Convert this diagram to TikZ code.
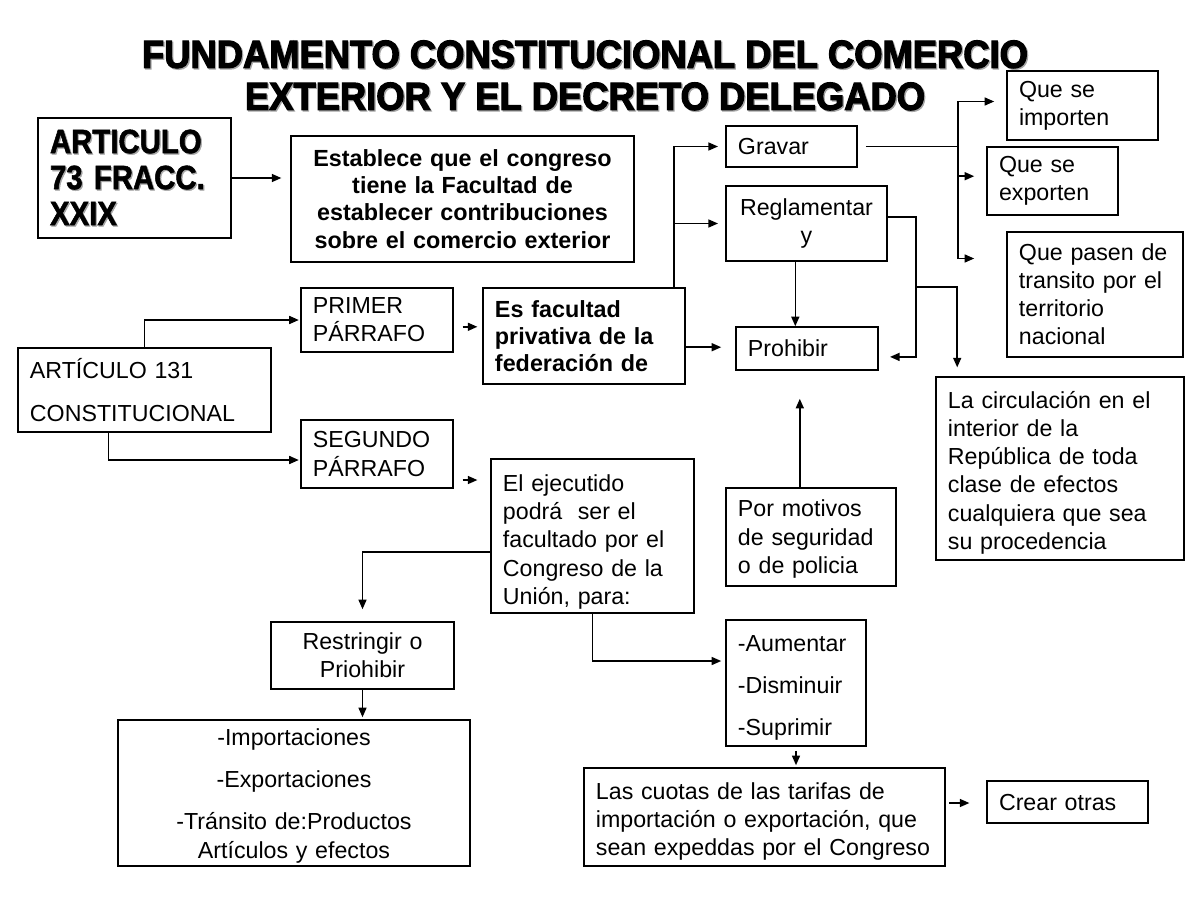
\documentclass[tikz,border=0pt]{standalone}
\usepackage{fontspec}
\setmainfont{Liberation Sans}
\newfontfamily\titlefont[FakeStretch=0.93,FakeBold=3]{Liberation Sans Bold}
\newfontfamily\narrowfont[FakeStretch=0.87,FakeBold=1.5]{Liberation Sans Bold}
\newcommand\shadowed[1]{\leavevmode\rlap{\kern0.9pt\raisebox{-0.9pt}{\color{black!35}#1}}#1}
\usetikzlibrary{arrows.meta,positioning}

\begin{document}
\begin{tikzpicture}[x=0.025cm,y=-0.025cm,>={Triangle[length=2.4mm,width=2mm]},line width=1.1pt,
 regbox/.style 2 args={draw,inner xsep=0.3cm,inner ysep=0pt,text width=#1cm,minimum height=#2cm,
  align=left,font=\fontsize{16.5}{20}\selectfont},
 boldbox/.style 2 args={regbox={#1}{#2},font=\bfseries\fontsize{16.6}{19.4}\selectfont},
 narrowbox/.style 2 args={regbox={#1}{#2},font=\narrowfont\fontsize{24}{25.6}\selectfont},
 textdown/.style={execute at end node={\endgraf\vspace*{-#1}}}]
\useasboundingbox (0,0) rectangle (1200,914);
\node[font=\titlefont\fontsize{27.8}{29.9}\selectfont,align=center] (title) at (585,76)
 {\shadowed{FUNDAMENTO CONSTITUCIONAL DEL COMERCIO}\\\shadowed{EXTERIOR Y EL DECRETO DELEGADO}};
% left column
\node[narrowbox={4.225}{3.0}] (art73) at (134.5,178) {\shadowed{ARTICULO}\\\shadowed{73 FRACC.}\\\shadowed{XXIX}};
\node[boldbox={7.975}{3.15},align=center] (estab) at (462.5,199)
 {Establece que el congreso\\tiene la Facultad de\\establecer contribuciones\\sobre el comercio exterior};
\node[regbox={5.725}{2.1}] (art131) at (144.5,390) {ARTÍCULO 131\\[10pt]CONSTITUCIONAL};
\node[regbox={3.2}{1.6}] (primer) at (377,320) {PRIMER\\PÁRRAFO};
\node[regbox={3.2}{1.7}] (segundo) at (377,454) {SEGUNDO\\PÁRRAFO};
\node[boldbox={4.45}{2.4}] (esfac) at (584,336) {Es facultad\\privativa de la\\federación de};
\node[regbox={4.475}{3.85},textdown=8.5pt] (ejec) at (592.5,536)
 {El ejecutido\\podrá~ ser el\\facultado por el\\Congreso de la\\Unión, para:};
\node[regbox={3.975}{1.675},align=center] (restr) at (362.5,655.5) {Restringir o\\Priohibir};
\node[regbox={8.2}{3.65},align=center,textdown=4pt] (impo) at (294,793)
 {-Importaciones\\[10pt]-Exportaciones\\[10pt]-Tránsito de:Productos\\Artículos y efectos};
% middle column
\node[regbox={2.675}{1.025}] (gravar) at (791.5,146.5) {Gravar};
\node[regbox={3.425}{1.875},align=center] (regl) at (806.5,223.5) {Reglamentar\\y};
\node[regbox={2.95}{1.075}] (prohib) at (807,348.5) {Prohibir};
\node[regbox={3.65}{2.45},textdown=3pt] (motivos) at (811,537) {Por motivos\\de seguridad\\o de policia};
\node[regbox={2.9}{3.15},textdown=7pt] (aum) at (796,683) {-Aumentar\\[10pt]-Disminuir\\[10pt]-Suprimir};
\node[regbox={8.425}{2.45},textdown=6pt] (cuotas) at (764.5,817)
 {Las cuotas de las tarifas de\\importación o exportación, que\\sean expeddas por el Congreso};
% right column
\node[regbox={3.175}{1.725}] (qimp) at (1082.5,105.5) {Que se\\importen};
\node[regbox={2.675}{1.7}] (qexp) at (1052.5,181) {Que se\\exporten};
\node[regbox={3.8}{3.125}] (qpas) at (1095,294.5) {Que pasen de\\transito por el\\territorio\\nacional};
\node[regbox={5.6}{4.575},textdown=6pt] (circ) at (1060,468.5)
 {La circulación en el\\interior de la\\República de toda\\clase de efectos\\cualquiera que sea\\su procedencia};
\node[regbox={3.425}{1.05}] (crear) at (1067.5,802) {Crear otras};
\coordinate (gsplit) at (958,146.5);
\coordinate (rside) at (916,287);
% connectors
\draw[->,shorten >=0.22cm] (art73.east) -- (art73.east -| estab.west);
\draw[->,shorten >=1pt] (art131.north) |- (primer.west);
\draw[->,shorten >=1pt] ([xshift=-0.9cm]art131.south) |- ([yshift=-0.15cm]segundo.west);
\draw[->,shorten <=0.22cm,shorten >=0.12cm] ([yshift=-0.17cm]primer.east) -- ([yshift=-0.17cm]primer.east -| esfac.west);
\draw[->,shorten <=0.22cm,shorten >=0.32cm] ([yshift=-0.65cm]segundo.east) -- ([yshift=-0.65cm]segundo.east -| ejec.west);
\draw[->,shorten >=0.35cm] ([yshift=-0.28cm]esfac.east) -- ([yshift=-0.28cm]esfac.east -| prohib.west);
\draw[->,shorten >=0.18cm] ([xshift=-0.3cm]esfac.north east) |- (gravar.west);
\draw[->,shorten >=0.18cm] ([xshift=-0.3cm]esfac.north east |- regl.west) -- (regl.west);
\draw[shorten <=0.2cm] (gravar.east) -- (gsplit);
\draw[->,shorten >=0.3cm] (gsplit) |- ([yshift=0.1cm]qimp.west);
\draw[->,shorten >=0.3cm] (gsplit) |- ([yshift=0.12cm]qexp.west);
\draw[->,shorten >=0.8cm] (gsplit) |- ([yshift=0.9cm]qpas.west);
\draw[->] ([xshift=-0.28cm]regl.south) -- ([xshift=-0.28cm]regl.south |- prohib.north);
\draw[->,shorten >=0.28cm] ([yshift=0.16cm]regl.east) -| (rside) |- ([yshift=-0.21cm]prohib.east);
\draw[->,shorten >=0.22cm] (rside) -| ([xshift=0.55cm]circ.north west);
\draw[->,shorten >=0.7cm] ([xshift=-0.28cm]motivos.north) -- ([xshift=-0.28cm]motivos.north |- prohib.south);
\draw[->,shorten >=0.3cm] ([yshift=-0.4cm]ejec.west) -| (restr.north);
\draw[->,shorten >=0.1cm] (ejec.south) |- ([yshift=0.55cm]aum.west);
\draw[->,shorten >=0.05cm] (restr.south) -- (restr.south |- impo.north);
\draw[->,shorten <=0.1cm,shorten >=0.05cm] (aum.south) -- (aum.south |- cuotas.north);
\draw[->,shorten <=0.08cm,shorten >=0.42cm] ([yshift=0.35cm]cuotas.east) -- ([yshift=0.35cm]cuotas.east -| crear.west);
\end{tikzpicture}
\end{document}
